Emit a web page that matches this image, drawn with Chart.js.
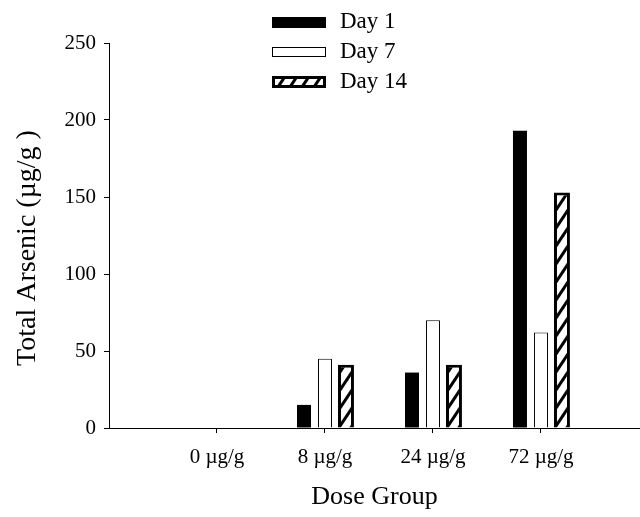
<!DOCTYPE html>
<html>
<head>
<meta charset="utf-8">
<script src="https://cdn.jsdelivr.net/npm/chart.js@4/dist/chart.umd.min.js"></script>
<style>
  body { margin: 0; background: #fff; }
  canvas { display: block; }
</style>
</head>
<body>
<canvas id="arsenicChart" width="640" height="517"></canvas>
<script>
const doseGroups = ['0 µg/g', '8 µg/g', '24 µg/g', '72 µg/g'];
const day1 = [0, 15, 36, 193];
const day7 = [0, 45, 70, 62];
const day14 = [0, 41, 41, 153];
const seriesLabels = ['Day 1', 'Day 7', 'Day 14'];
const yTicks = [0, 50, 100, 150, 200, 250];
const yTitle = 'Total Arsenic (µg/g )';
const xTitle = 'Dose Group';

const serif = '"Liberation Serif", "Times New Roman", serif';

// diagonal hatch used by the Day 14 bars
function makeHatch() {
  const tile = document.createElement('canvas');
  tile.width = 12;
  tile.height = 18;
  const c = tile.getContext('2d');
  c.fillStyle = '#fff';
  c.fillRect(0, 0, 12, 18);
  c.strokeStyle = '#000';
  c.lineWidth = 3;
  for (let dx = -12; dx <= 12; dx += 12) {
    c.beginPath();
    c.moveTo(dx - 12, 36);
    c.lineTo(dx + 24, -18);
    c.stroke();
  }
  return c.createPattern(tile, 'repeat');
}

const ctx = document.getElementById('arsenicChart').getContext('2d');
const hatch = makeHatch();

function toPoints(values) {
  return values.map((v, i) => ({ x: i + 1, y: v }));
}

// legend and y title drawn by hand so they can sit where the original has them
const customDraw = {
  id: 'customDraw',
  afterDraw(chart) {
    const c = chart.ctx;
    c.save();
    const boxX = 272;
    const boxW = 54;
    const rows = [22, 52, 82];
    chart.data.datasets.forEach((ds, i) => {
      const cy = rows[i];
      if (i === 0) {
        c.fillStyle = '#000';
        c.fillRect(boxX, cy - 5, boxW, 11);
      } else if (i === 1) {
        c.fillStyle = '#fff';
        c.fillRect(boxX, cy - 5, boxW, 10);
        c.strokeStyle = '#000';
        c.lineWidth = 1;
        c.strokeRect(boxX + 0.5, cy - 4.5, boxW - 1, 9);
      } else {
        c.fillStyle = hatch;
        c.fillRect(boxX, cy - 6, boxW, 12);
        c.strokeStyle = '#000';
        c.lineWidth = 3;
        c.strokeRect(boxX + 1.5, cy - 4.5, boxW - 3, 9);
      }
      c.fillStyle = '#000';
      c.font = '23px ' + serif;
      c.textAlign = 'left';
      c.textBaseline = 'middle';
      c.fillText(ds.label, 340, cy);
    });

    c.translate(28, 248);
    c.rotate(-Math.PI / 2);
    c.font = '28px ' + serif;
    c.textAlign = 'center';
    c.textBaseline = 'middle';
    c.fillText(yTitle, 0, 0);
    c.restore();
  },
};

const arsenicChart = new Chart(ctx, {
  type: 'bar',
  data: {
    datasets: [{
      label: seriesLabels[0],
      data: toPoints(day1),
      backgroundColor: '#000',
      borderColor: '#000',
      borderWidth: 0,
      barPercentage: 0.667,
    },
    {
      label: seriesLabels[1],
      data: toPoints(day7),
      backgroundColor: '#fff',
      borderColor: '#000',
      borderWidth: 1,
      barPercentage: 0.667,
    },
    {
      label: seriesLabels[2],
      data: toPoints(day14),
      backgroundColor: hatch,
      borderColor: '#000',
      borderWidth: 3,
      barPercentage: 0.76,
    }],
  },
  options: {
    responsive: false,
    animation: false,
    layout: {
      padding: { top: 43, right: 0, bottom: 0, left: 0 },
    },
    plugins: {
      legend: { display: false },
      tooltip: { enabled: false },
    },
    datasets: {
      bar: { categoryPercentage: 0.5833 },
    },
    scales: {
      x: {
        type: 'linear',
        offset: false,
        min: 0,
        max: 4.917,
        afterBuildTicks: (scale) => {
          scale.ticks = scale.ticks.filter((t) => t.value >= 1 && t.value <= doseGroups.length);
        },
        afterFit: (scale) => { scale.height = 89; },
        ticks: {
          stepSize: 1,
          includeBounds: false,
          autoSkip: false,
          maxRotation: 0,
          padding: 12,
          color: '#000',
          font: { family: serif, size: 21 },
          callback: (value) => doseGroups[value - 1] || '',
        },
        grid: {
          offset: false,
          drawOnChartArea: false,
          drawTicks: true,
          tickLength: 5,
          color: '#000',
        },
        border: { color: '#000', width: 1 },
        title: {
          display: true,
          text: xTitle,
          color: '#000',
          font: { family: serif, size: 26 },
          padding: { top: 0, bottom: 4 },
        },
      },
      y: {
        min: 0,
        max: 250,
        afterFit: (scale) => { scale.width = 109; },
        afterBuildTicks: (scale) => {
          scale.ticks = yTicks.map((v) => ({ value: v }));
        },
        ticks: {
          padding: 8,
          color: '#000',
          font: { family: serif, size: 21 },
        },
        grid: {
          drawOnChartArea: false,
          drawTicks: true,
          tickLength: 5,
          color: '#000',
        },
        border: { color: '#000', width: 1 },
      },
    },
  },
  plugins: [customDraw],
});
</script>
</body>
</html>
